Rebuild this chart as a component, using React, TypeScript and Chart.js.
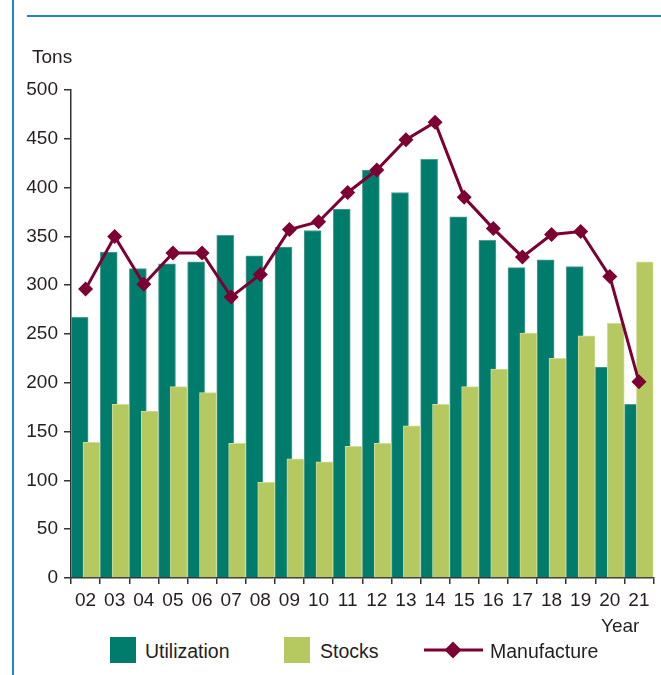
import React, { useEffect, useRef } from 'react';
import { Chart, registerables } from 'chart.js';

Chart.register(...registerables);

const years = ['02', '03', '04', '05', '06', '07', '08', '09', '10', '11', '12', '13', '14', '15', '16', '17', '18', '19', '20', '21'];
const utilization = [267, 334, 317, 322, 324, 351, 330, 339, 356, 378, 418, 395, 429, 370, 346, 318, 326, 319, 216, 178];
const stocks = [139, 178, 171, 196, 190, 138, 98, 122, 119, 135, 138, 156, 178, 196, 214, 251, 225, 248, 261, 324];
const manufacture = [296, 350, 301, 333, 333, 288, 311, 357, 365, 395, 418, 449, 467, 390, 358, 329, 352, 355, 309, 201];
const yMin = 0;
const yMax = 500;
const yStep = 50;

// layout: bar offset from category centre (in category units) and bar thickness (px)
const BAR_SHIFT = 0.204;
const BAR_THICKNESS = 17;

const TEAL = '#007c6c';
const LIME = '#b5c960';
const MAROON = '#7d0033';
const BLUE = '#1c88c2';
const FONT = "'Liberation Sans', Arial, sans-serif";
const TEXT = '#231f20';

export default function App() {
  const ref = useRef<HTMLCanvasElement | null>(null);

  useEffect(() => {
    document.body.style.margin = '0';
    const canvas = ref.current;
    if (!canvas) return;
    const utilPoints = utilization.map((v, i) => ({ x: i - BAR_SHIFT, y: v }));
    const stockPoints = stocks.map((v, i) => ({ x: i + BAR_SHIFT, y: v }));
    const chart = new Chart(canvas, {
      type: 'bar',
      data: {
        labels: years,
        datasets: [
          {
            type: 'bar',
            label: 'Utilization',
            data: utilPoints as any,
            xAxisID: 'xb',
            grouped: false,
            barThickness: BAR_THICKNESS,
            backgroundColor: TEAL,
            borderColor: '#4f9f92',
            borderWidth: 1,
            borderSkipped: 'start',
            order: 2,
          },
          {
            type: 'bar',
            label: 'Stocks',
            data: stockPoints as any,
            xAxisID: 'xb',
            grouped: false,
            barThickness: BAR_THICKNESS,
            backgroundColor: LIME,
            borderColor: '#d2dd9c',
            borderWidth: 1,
            borderSkipped: 'start',
            order: 1,
          },
          {
            type: 'line',
            label: 'Manufacture',
            data: manufacture,
            xAxisID: 'x',
            borderColor: MAROON,
            backgroundColor: MAROON,
            borderWidth: 3,
            tension: 0,
            pointStyle: 'rectRot',
            pointRadius: 7.5,
            pointBorderWidth: 0,
            pointBackgroundColor: MAROON,
            order: 0,
          },
        ],
      },
      options: {
        responsive: false,
        animation: false,
        layout: { padding: { top: 90, bottom: 12, left: 0, right: 2 } },
        plugins: {
          legend: { display: false },
          tooltip: { enabled: false },
          title: { display: false },
        },
        scales: {
          x: {
            type: 'category',
            offset: true,
            grid: {
              offset: true,
              drawOnChartArea: false,
              drawTicks: true,
              tickLength: 6,
              color: '#333',
              lineWidth: 1.5,
            },
            border: { display: true, color: '#333', width: 1.5 },
            ticks: {
              color: TEXT,
              font: { family: FONT, size: 19 },
              padding: 5,
              maxRotation: 0,
              autoSkip: false,
            },
            afterFit: (scale: any) => {
              scale.height = 40;
            },
          },
          xb: {
            type: 'linear',
            display: false,
            offset: false,
            min: -0.5,
            max: years.length - 0.5,
            grid: { offset: false },
          },
          y: {
            min: yMin,
            max: yMax,
            grid: {
              drawOnChartArea: false,
              drawTicks: true,
              tickLength: 7,
              color: '#333',
              lineWidth: 1.5,
            },
            border: { display: true, color: '#333', width: 1.5 },
            ticks: {
              stepSize: yStep,
              color: TEXT,
              font: { family: FONT, size: 19 },
              padding: 6,
            },
            afterFit: (scale: any) => {
              scale.width = 71;
            },
          },
        },
      },
    });
    return () => chart.destroy();
  }, []);

  const textBase: React.CSSProperties = {
    position: 'absolute',
    fontFamily: FONT,
    color: TEXT,
    whiteSpace: 'nowrap',
  };

  return (
    <div style={{ position: 'relative', width: 661, height: 675, overflow: 'hidden', background: '#fff' }}>
      <div style={{ position: 'absolute', left: 12, top: 0, width: 2, height: 675, background: BLUE }} />
      <div style={{ position: 'absolute', left: 27, top: 15, width: 634, height: 2, background: BLUE }} />
      <canvas ref={ref} width={661} height={630} style={{ position: 'absolute', left: 0, top: 0, display: 'block' }} />
      <div style={{ ...textBase, left: 32, top: 47, fontSize: 19, lineHeight: '19px' }}>Tons</div>
      <div style={{ ...textBase, left: 601, top: 616, fontSize: 19, lineHeight: '19px' }}>Year</div>
      <div style={{ position: 'absolute', left: 110, top: 637, width: 26, height: 26, background: TEAL }} />
      <div style={{ ...textBase, left: 145, top: 641, fontSize: 19.5, lineHeight: '20px' }}>Utilization</div>
      <div style={{ position: 'absolute', left: 284, top: 637, width: 26, height: 26, background: LIME }} />
      <div style={{ ...textBase, left: 320, top: 641, fontSize: 19.5, lineHeight: '20px' }}>Stocks</div>
      <svg style={{ position: 'absolute', left: 420, top: 637 }} width={66} height={26}>
        <line x1={4} y1={13} x2={63} y2={13} stroke={MAROON} strokeWidth={3} />
        <polygon points="33,4.5 41.5,13 33,21.5 24.5,13" fill={MAROON} />
      </svg>
      <div style={{ ...textBase, left: 490, top: 641, fontSize: 19.5, lineHeight: '20px' }}>Manufacture</div>
    </div>
  );
}
